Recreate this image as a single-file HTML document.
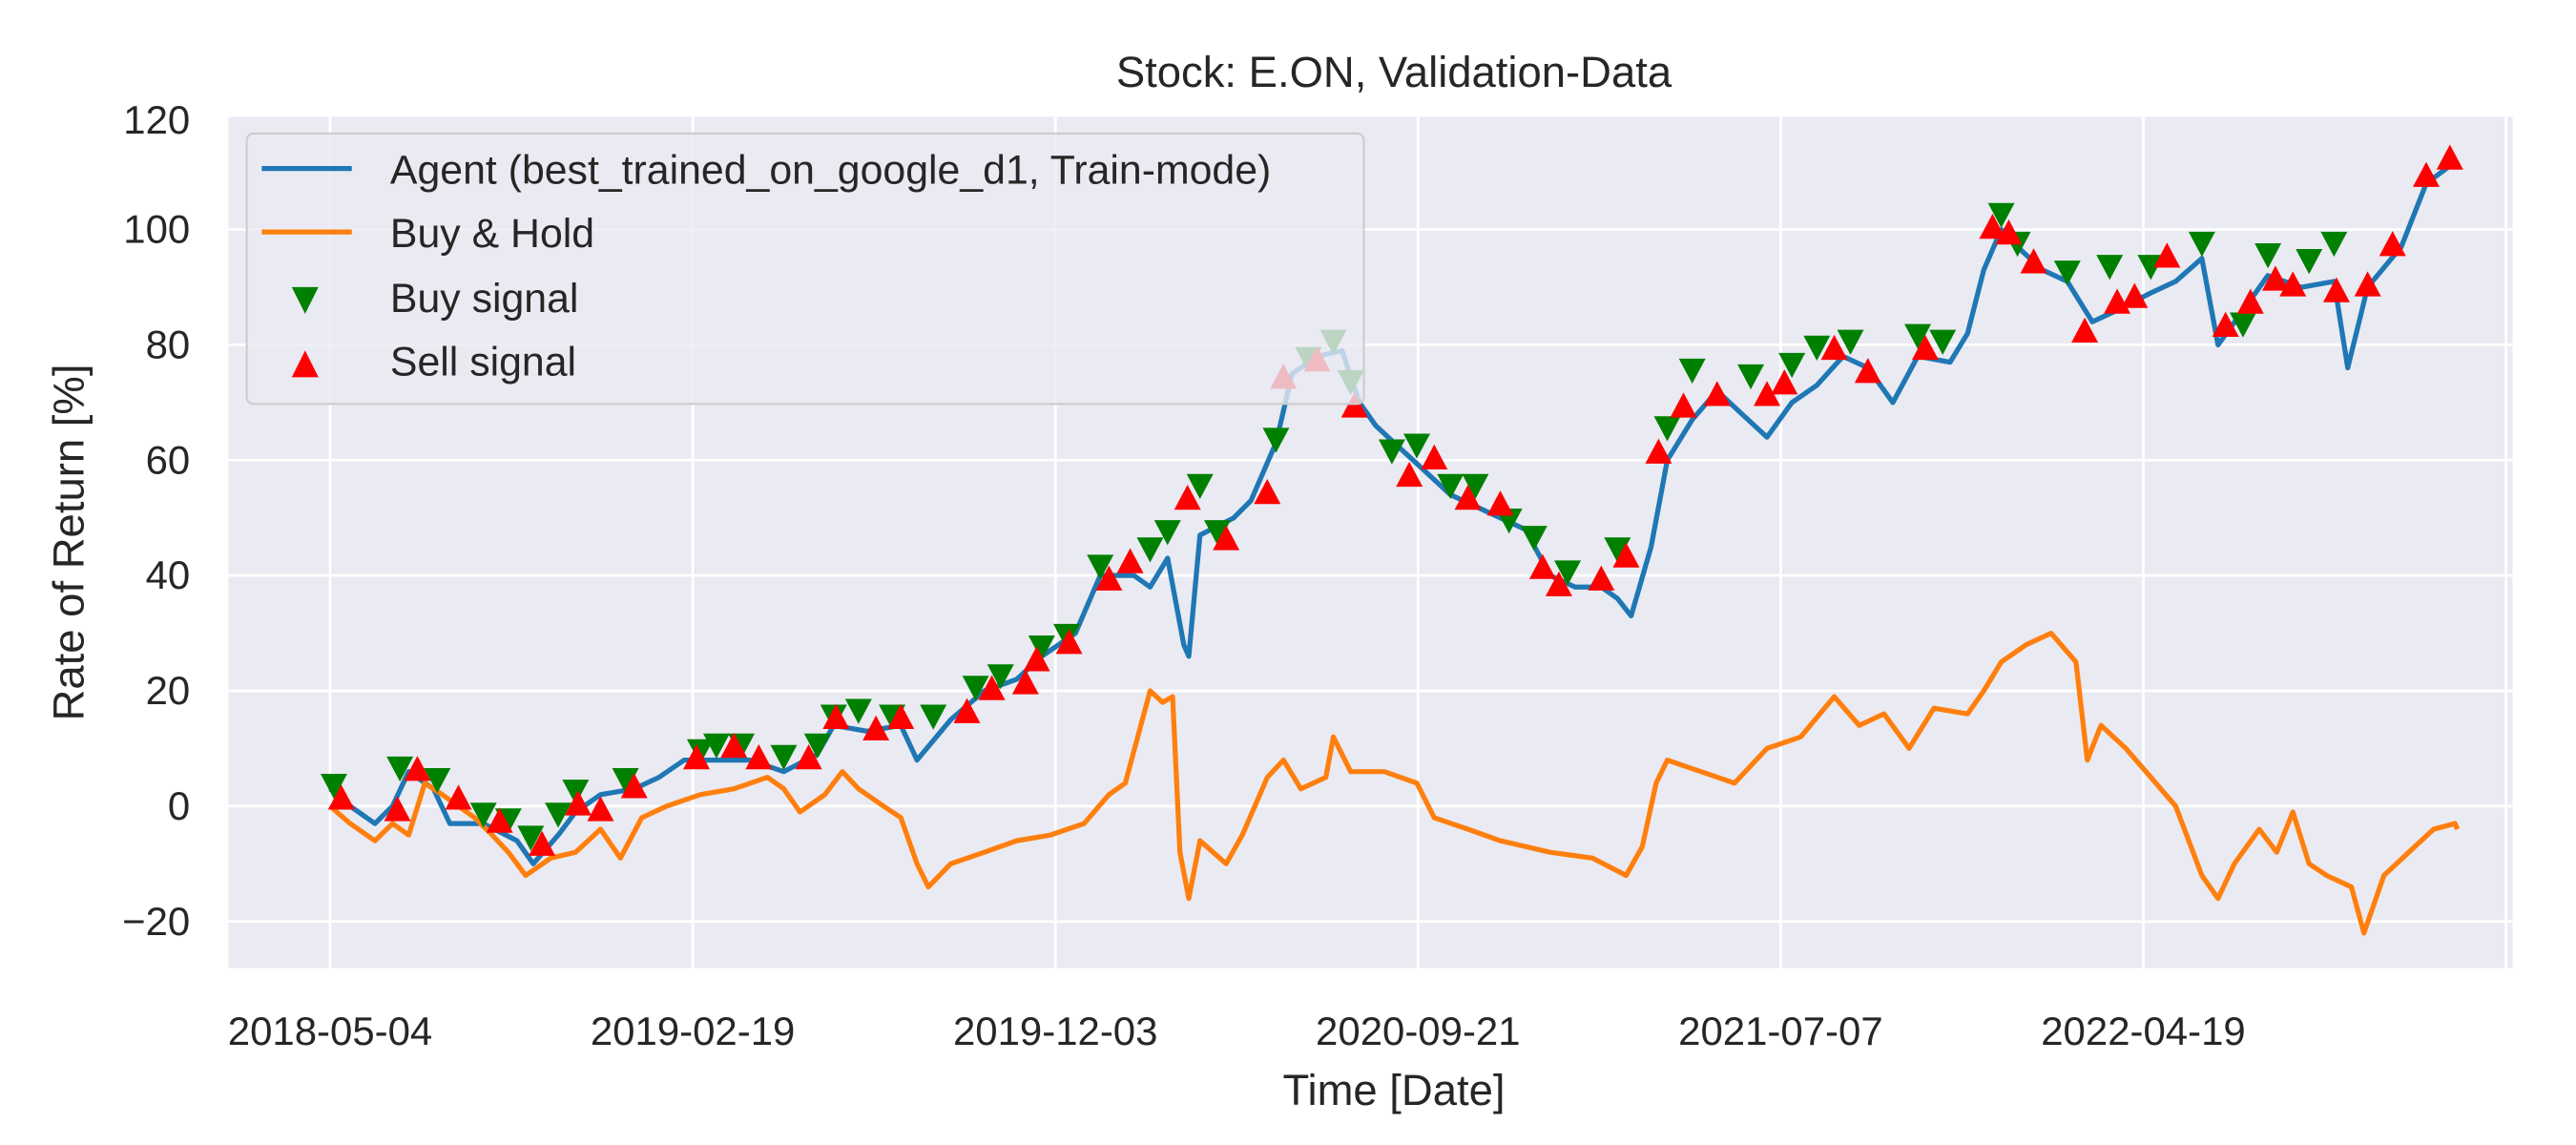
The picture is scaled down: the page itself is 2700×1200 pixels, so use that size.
<!DOCTYPE html>
<html><head><meta charset="utf-8">
<style>
html,body{margin:0;padding:0;background:#fff;}
svg{display:block;font-family:"Liberation Sans","DejaVu Sans",sans-serif;}
</style></head>
<body>
<svg id="chart" width="2700" height="1200" viewBox="0 0 1545 686" preserveAspectRatio="none" xmlns="http://www.w3.org/2000/svg">
  <rect x="0" y="0" width="1545" height="686" fill="#ffffff"/>
  <rect x="137" y="70" width="1370" height="510" fill="#eaeaf2"/>
  <g id="grid"></g>
  <g id="series"></g>
  <g id="markers"></g>
  <g id="ticks" fill="#262626" font-size="24"></g>
  <text x="836" y="52" text-anchor="middle" font-size="26" fill="#262626">Stock: E.ON, Validation-Data</text>
  <text x="836" y="662" text-anchor="middle" font-size="26" fill="#262626">Time [Date]</text>
  <text transform="translate(50,325) rotate(-90)" text-anchor="middle" font-size="26" fill="#262626">Rate of Return [%]</text>
  <g>
    <rect x="148" y="80" width="670" height="162" rx="4" fill="#eaeaf2" fill-opacity="0.8" stroke="#cccccc" stroke-width="1.2"/>
    <g>
      <line x1="157" y1="101" x2="211" y2="101" stroke="#1f77b4" stroke-width="3"/>
      <text x="234" y="110" font-size="24.5" fill="#262626">Agent (best_trained_on_google_d1, Train-mode)</text>
    </g>
    <g>
      <line x1="157" y1="139" x2="211" y2="139" stroke="#ff7f0e" stroke-width="3"/>
      <text x="234" y="148" font-size="24.5" fill="#262626">Buy &amp; Hold</text>
    </g>
    <g>
      <polygon points="175,172 191,172 183,188" fill="#008000"/>
      <text x="234" y="187" font-size="24.5" fill="#262626">Buy signal</text>
    </g>
    <g>
      <polygon points="175,226 191,226 183,210" fill="#ff0000"/>
      <text x="234" y="225" font-size="24.5" fill="#262626">Sell signal</text>
    </g>
  </g>
</svg>
<script>
const xTickLabels = ["2018-05-04","2019-02-19","2019-12-03","2020-09-21","2021-07-07","2022-04-19"];
const xTickDays = [0,291,582,873,1164,1455,1746];
const yTicks = [-20,0,20,40,60,80,100,120];
const bhDays = [0,16,36,50,63,76,90,103,116,130,143,157,177,197,217,233,250,270,297,324,351,364,377,397,411,424,444,458,471,480,498,525,551,578,605,625,638,658,668,676,682,689,698,719,732,752,765,779,799,805,819,846,872,886,913,939,979,1013,1040,1053,1064,1073,1100,1127,1153,1180,1207,1227,1247,1267,1287,1314,1327,1341,1361,1381,1401,1410,1421,1441,1461,1481,1502,1515,1528,1548,1562,1575,1588,1602,1622,1632,1648,1668,1688,1705,1707];
const bhValues = [0,-3,-6,-3,-5,4,2,0,-2,-5,-8,-12,-9,-8,-4,-9,-2,0,2,3,5,3,-1,2,6,3,0,-2,-10,-14,-10,-8,-6,-5,-3,2,4,20,18,19,-8,-16,-6,-10,-5,5,8,3,5,12,6,6,4,-2,-4,-6,-8,-9,-12,-7,4,8,6,4,10,12,19,14,16,10,17,16,20,25,28,30,25,8,14,10,5,0,-12,-16,-10,-4,-8,-1,-10,-12,-14,-22,-12,-8,-4,-3,-4];
const agentDays = [0,16,36,50,63,83,96,123,150,163,183,197,217,244,264,284,310,337,364,391,404,431,458,471,498,525,551,571,598,618,645,658,672,685,689,698,725,739,759,772,792,812,826,839,859,879,899,919,939,959,979,999,1020,1033,1044,1060,1073,1093,1113,1133,1153,1173,1193,1214,1234,1254,1274,1300,1314,1327,1341,1354,1374,1394,1414,1434,1461,1481,1502,1515,1535,1555,1582,1608,1619,1635,1662,1682,1707];
const agentValues = [3,0,-3,0,6,3,-3,-3,-6,-10,-5,-1,2,3,5,8,8,8,6,9,14,13,14,8,15,20,22,26,30,40,40,38,43,28,26,47,50,53,63,75,78,79,70,66,62,58,54,52,50,48,40,38,38,36,33,45,60,67,72,68,64,70,73,78,76,70,78,77,82,93,100,97,93,91,84,86,89,91,95,80,86,92,90,91,76,90,97,108,112];
const buyDays = [3,56,86,123,143,161,183,197,237,297,310,330,364,391,404,424,451,484,518,538,571,591,618,658,672,698,712,759,785,805,819,852,872,899,919,946,966,993,1033,1073,1093,1140,1173,1193,1220,1274,1294,1341,1354,1394,1428,1461,1502,1535,1555,1588,1608];
const buyValues = [3,6,4,-2,-3,-6,-2,2,4,9,10,10,8,10,15,16,15,15,20,22,27,29,41,44,47,55,47,63,77,80,73,61,62,55,55,49,46,40,44,65,75,74,76,79,80,81,80,102,97,92,93,93,97,83,95,94,97];
const sellDays = [9,54,70,103,136,170,199,217,244,294,324,344,384,406,438,458,511,531,558,567,593,625,642,688,719,752,765,792,822,866,886,913,939,973,986,1020,1040,1066,1086,1113,1153,1167,1207,1234,1280,1334,1347,1367,1408,1434,1448,1474,1521,1541,1561,1575,1610,1635,1655,1682,1701];
const sellValues = [2,0,7,2,-2,-6,1,0,4,9,11,9,9,16,14,16,17,21,22,26,29,40,43,54,47,55,75,78,70,58,61,54,53,42,39,40,44,62,70,72,72,74,80,76,80,101,100,95,83,88,89,96,84,88,92,91,90,91,98,110,113];

const NS = "http://www.w3.org/2000/svg";
function xScale(d){ return 198 + d * (217.5/291); }
function yScale(v){ return 483 - v * (69.1/20); }
const grid = document.getElementById('grid');
const ticks = document.getElementById('ticks');
const series = document.getElementById('series');
const markers = document.getElementById('markers');

yTicks.forEach(function(v){
  const y = yScale(v);
  if (y >= 70 && y <= 580) {
    const l = document.createElementNS(NS,'line');
    
    
    l.setAttribute('x1',137); l.setAttribute('x2',1507); l.setAttribute('y1',y); l.setAttribute('y2',y);
    l.setAttribute('stroke','#fff'); l.setAttribute('stroke-width','1.6');
    grid.appendChild(l);
  }
  const t = document.createElementNS(NS,'text');
  
  
  t.setAttribute('x',114); t.setAttribute('y',Math.max(y,72)+8); t.setAttribute('text-anchor','end');
  t.textContent = v < 0 ? '\u2212' + Math.abs(v) : String(v);
  ticks.appendChild(t);
});
xTickDays.forEach(function(d,i){
  const x = xScale(d);
  const l = document.createElementNS(NS,'line');
  
  
  l.setAttribute('x1',x); l.setAttribute('x2',x); l.setAttribute('y1',70); l.setAttribute('y2',580);
  l.setAttribute('stroke','#fff'); l.setAttribute('stroke-width','1.6');
  grid.appendChild(l);
  if (i < xTickLabels.length) {
    const t = document.createElementNS(NS,'text');
    
    
    t.setAttribute('x',x); t.setAttribute('y',626); t.setAttribute('text-anchor','middle');
    t.textContent = xTickLabels[i];
    ticks.appendChild(t);
  }
});
function line(days, vals, color, name){
  const p = document.createElementNS(NS,'polyline');
  
  
  p.setAttribute('points', days.map(function(d,i){return xScale(d).toFixed(1)+','+yScale(vals[i]).toFixed(1);}).join(' '));
  p.setAttribute('fill','none'); p.setAttribute('stroke',color); p.setAttribute('stroke-width','3');
  p.setAttribute('stroke-linejoin','round');
  series.appendChild(p);
}
line(agentDays, agentValues, '#1f77b4', 'agent-line');
line(bhDays, bhValues, '#ff7f0e', 'buy-hold-line');
buyDays.forEach(function(d,i){
  const x = xScale(d), y = yScale(buyValues[i]);
  const m = document.createElementNS(NS,'polygon');
  
  
  m.setAttribute('points', (x-8)+','+(y-9)+' '+(x+8)+','+(y-9)+' '+x+','+(y+6));
  m.setAttribute('fill','#008000');
  markers.appendChild(m);
});
sellDays.forEach(function(d,i){
  const x = xScale(d), y = yScale(sellValues[i]);
  const m = document.createElementNS(NS,'polygon');
  
  
  m.setAttribute('points', (x-8)+','+(y+9)+' '+(x+8)+','+(y+9)+' '+x+','+(y-6));
  m.setAttribute('fill','#ff0000');
  markers.appendChild(m);
});
</script>
</body></html>
